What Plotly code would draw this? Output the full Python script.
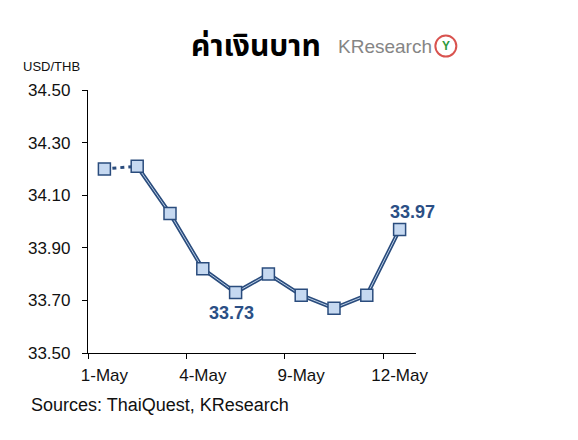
import plotly.graph_objects as go

dates = ["1-May", "2-May", "3-May", "4-May", "5-May", "8-May", "9-May", "10-May", "11-May", "12-May"]
usd_thb = [34.20, 34.21, 34.03, 33.82, 33.73, 33.80, 33.72, 33.67, 33.72, 33.97]
label_idx = [0, 3, 6, 9]
callouts = [4, 9]

NAVY = "#2a4c7d"
LIGHT = "#c6d9f1"

x = list(range(len(dates)))
fig = go.Figure()
# dashed first segment
fig.add_trace(go.Scatter(x=x[:2], y=usd_thb[:2], mode="lines",
                         line=dict(color=NAVY, width=3, dash="4px,4px"), hoverinfo="skip"))
# double line effect
fig.add_trace(go.Scatter(x=x[1:], y=usd_thb[1:], mode="lines",
                         line=dict(color=NAVY, width=4)))
fig.add_trace(go.Scatter(x=x[1:], y=usd_thb[1:], mode="lines",
                         line=dict(color="#b8cce4", width=1)))
fig.add_trace(go.Scatter(x=x, y=usd_thb, mode="markers",
                         marker=dict(symbol="square", size=12, color=LIGHT,
                                     line=dict(color=NAVY, width=1.5))))

for i, (xs, ys) in zip(callouts, [(-4, -20), (13, 17)]):
    fig.add_annotation(x=x[i], y=usd_thb[i], text=f"<b>{usd_thb[i]:.2f}</b>",
                       showarrow=False, xshift=xs, yshift=ys,
                       font=dict(family="Liberation Sans, Arial", size=18, color="#2b4f85"))

fig.update_layout(
    width=578, height=440,
    margin=dict(l=88, r=162, t=90, b=87),
    paper_bgcolor="white", plot_bgcolor="white",
    showlegend=False,
    font=dict(family="Liberation Sans, Arial", color="#111111"),
    xaxis=dict(
        range=[-0.5, len(dates) - 0.5],
        tickvals=label_idx, ticktext=[dates[i] for i in label_idx],
        ticks="", showgrid=False, zeroline=False,
        showline=True, linecolor="black", linewidth=1.2,
        tickfont=dict(size=17), ticklabelstandoff=6,
        minor=dict(tickvals=[i - 0.5 for i in label_idx], ticks="outside",
                   ticklen=5, tickcolor="black", tickwidth=1.2, showgrid=False),
    ),
    yaxis=dict(
        range=[33.5, 34.5], dtick=0.2, tick0=33.5, tickformat=".2f",
        ticks="outside", ticklen=5, tickcolor="black", tickwidth=1.2,
        showgrid=False, zeroline=False,
        showline=True, linecolor="black", linewidth=1.2,
        tickfont=dict(size=17), ticklabelstandoff=8,
    ),
)

fig.add_annotation(xref="paper", yref="paper", x=0.5, y=1.163, xanchor="center", yanchor="middle",
                   text="<b>ค่าเงินบาท</b>", showarrow=False, xshift=4,
                   font=dict(family="Tahoma, Noto Sans Thai, Loma, sans-serif", size=30, color="black"))
fig.add_annotation(xref="paper", yref="paper", x=0, y=1, xanchor="left", yanchor="bottom",
                   text="USD/THB", showarrow=False, xshift=-67, yshift=14,
                   font=dict(size=13, color="#111111"))
fig.add_annotation(xref="paper", yref="paper", x=0, y=0, xanchor="left", yanchor="middle",
                   text="Sources: ThaiQuest, KResearch", showarrow=False, xshift=-59, yshift=-52,
                   font=dict(size=18, color="#111111"))
# KResearch logo
fig.add_annotation(xref="paper", yref="paper", x=1, y=1.167, xanchor="right", yanchor="middle",
                   text="KResearch", showarrow=False, xshift=18,
                   font=dict(family="Liberation Sans Narrow, Arial Narrow, Liberation Sans", size=19, color="#858585"))
fig.add_shape(type="circle", xref="paper", yref="paper",
              x0=1.059, x1=1.123, y0=1.127, y1=1.207,
              line=dict(color="#d9534f", width=2), fillcolor="white")
fig.add_annotation(xref="paper", yref="paper", x=1.091, y=1.167, xanchor="center", yanchor="middle",
                   text="<b>Y</b>", showarrow=False,
                   font=dict(size=12, color="#2e9a3e"))

fig.write_html("out.html")
